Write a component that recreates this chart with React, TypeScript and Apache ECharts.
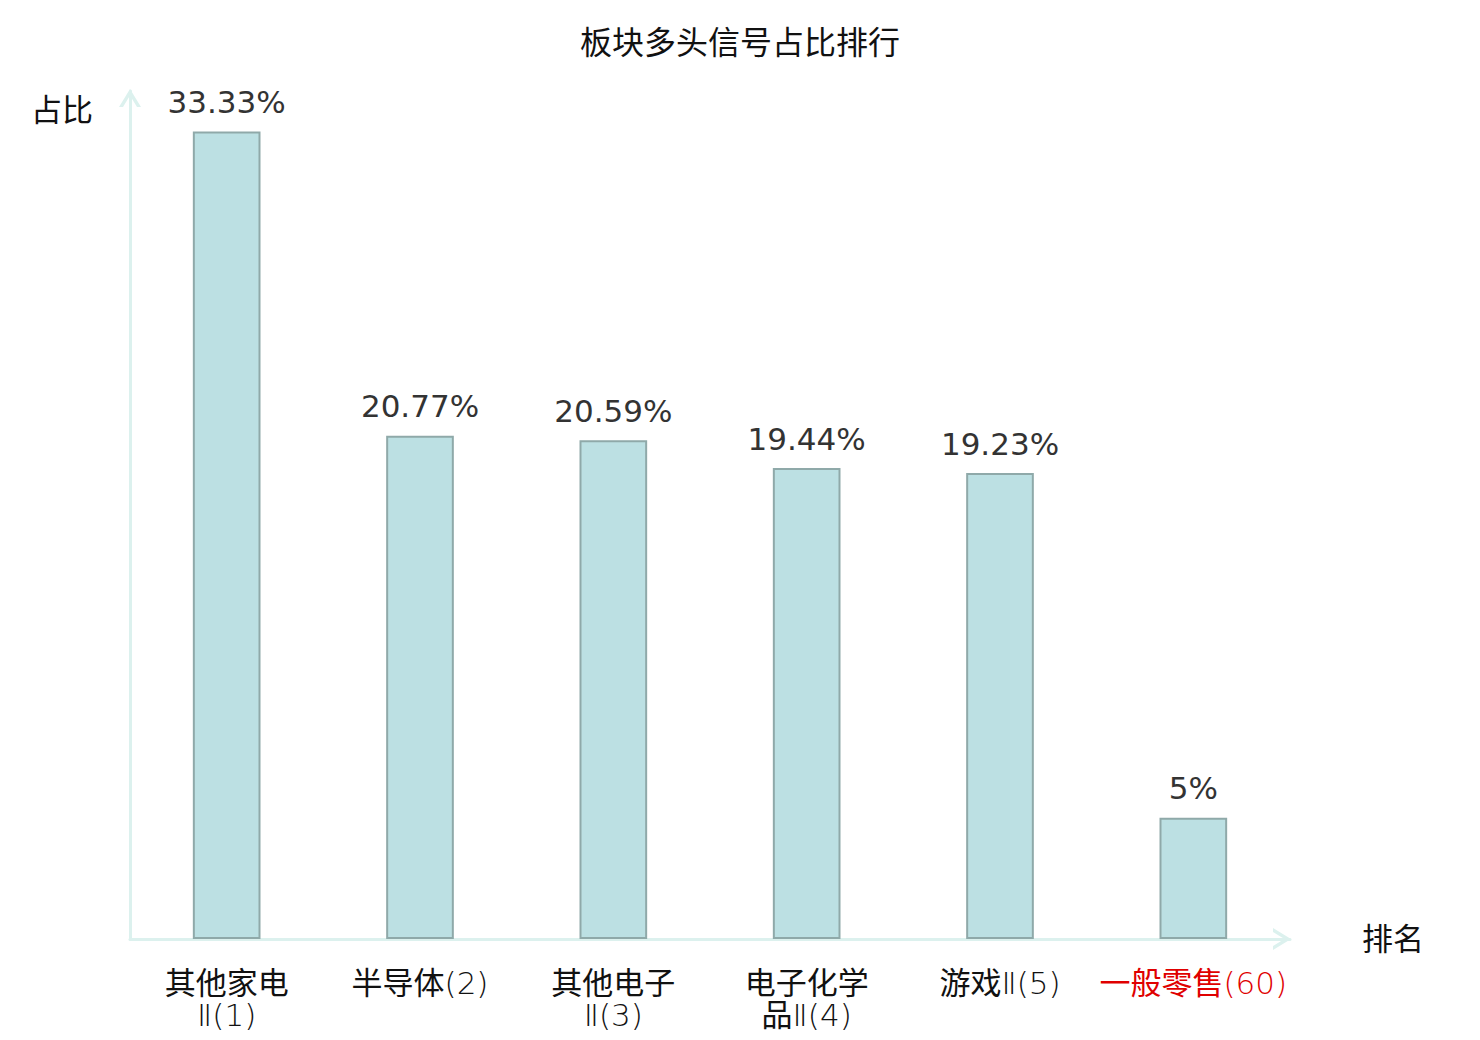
import React, { useEffect, useRef } from "react";
import * as echarts from "echarts";

const TITLE = "板块多头信号占比排行";
const CATEGORIES = [
  "其他家电\nⅡ(1)",
  "半导体(2)",
  "其他电子\nⅡ(3)",
  "电子化学\n品Ⅱ(4)",
  "游戏Ⅱ(5)",
  "一般零售(60)",
];
const VALUES = [33.33, 20.77, 20.59, 19.44, 19.23, 5];
const HIGHLIGHT_INDEX = 5;
const Y_NAME = "占比";
const X_NAME = "排名";

const ARROW = "path://M0,18 L11,0 L22,18 L18,18 L11,6.5 L4,18 Z";
const FONT = "'DejaVu Sans', 'Noto Sans CJK SC', sans-serif";

export default function App() {
  const ref = useRef<HTMLDivElement>(null);
  useEffect(() => {
    document.body.style.margin = "0";
    const chart = echarts.init(ref.current!, null, { renderer: "svg" });
    const axisLineStyle = { color: "#dcf1ee", width: 3 };
    const latinStyle = { fontSize: 31, fontFamily: FONT, fontWeight: 200, lineHeight: 32 };
    chart.setOption({
      animation: false,
      backgroundColor: "#ffffff",
      textStyle: { fontFamily: FONT },
      title: {
        text: TITLE,
        left: "center",
        top: 22,
        textStyle: { fontSize: 32, fontWeight: "normal", color: "#111", fontFamily: FONT },
      },
      grid: { left: 130, right: 190, top: 91, bottom: 101 },
      xAxis: {
        type: "category",
        data: CATEGORIES,
        name: X_NAME,
        nameLocation: "end",
        nameGap: 72,
        nameTextStyle: { fontSize: 31, color: "#111", align: "left", verticalAlign: "middle", fontFamily: FONT },
        axisLine: {
          show: true,
          lineStyle: axisLineStyle,
          symbol: ["none", ARROW],
          symbolSize: [22, 18],
          symbolOffset: [0, -8],
        },
        axisTick: { show: false },
        axisLabel: {
          interval: 0,
          margin: 28,
          fontSize: 31,
          lineHeight: 32,
          fontFamily: FONT,
          color: (_v: any, i: number) => (i === HIGHLIGHT_INDEX ? "#e00000" : "#111"),
          formatter: (v: string) =>
            v
              .split("\n")
              .map((line) => line.replace(/([Ⅱ()0-9]+)/g, "{l|$1}"))
              .join("\n"),
          rich: {
            l: latinStyle,
          },
        },
      },
      yAxis: {
        type: "value",
        min: 0,
        max: 35,
        name: Y_NAME,
        nameLocation: "end",
        nameGap: -19,
        nameTextStyle: {
          fontSize: 31,
          color: "#111",
          fontFamily: FONT,
          align: "right",
          verticalAlign: "middle",
          padding: [0, 37, 0, 0],
        },
        axisLine: {
          show: true,
          lineStyle: axisLineStyle,
          symbol: ["none", ARROW],
          symbolSize: [22, 18],
          symbolOffset: [0, -7],
        },
        axisTick: { show: false },
        axisLabel: { show: false },
        splitLine: { show: false },
      },
      series: [
        {
          type: "bar",
          data: VALUES,
          barWidth: "35%",
          itemStyle: { color: "#bce0e3", borderColor: "#8fa9a9", borderWidth: 2 },
          label: {
            show: true,
            position: "top",
            distance: 14,
            fontSize: 31,
            fontFamily: FONT,
            color: "#333",
            formatter: (p: any) => `${p.value}%`,
          },
        },
      ],
    });
    return () => chart.dispose();
  }, []);
  return <div ref={ref} style={{ width: 1480, height: 1040 }} />;
}
